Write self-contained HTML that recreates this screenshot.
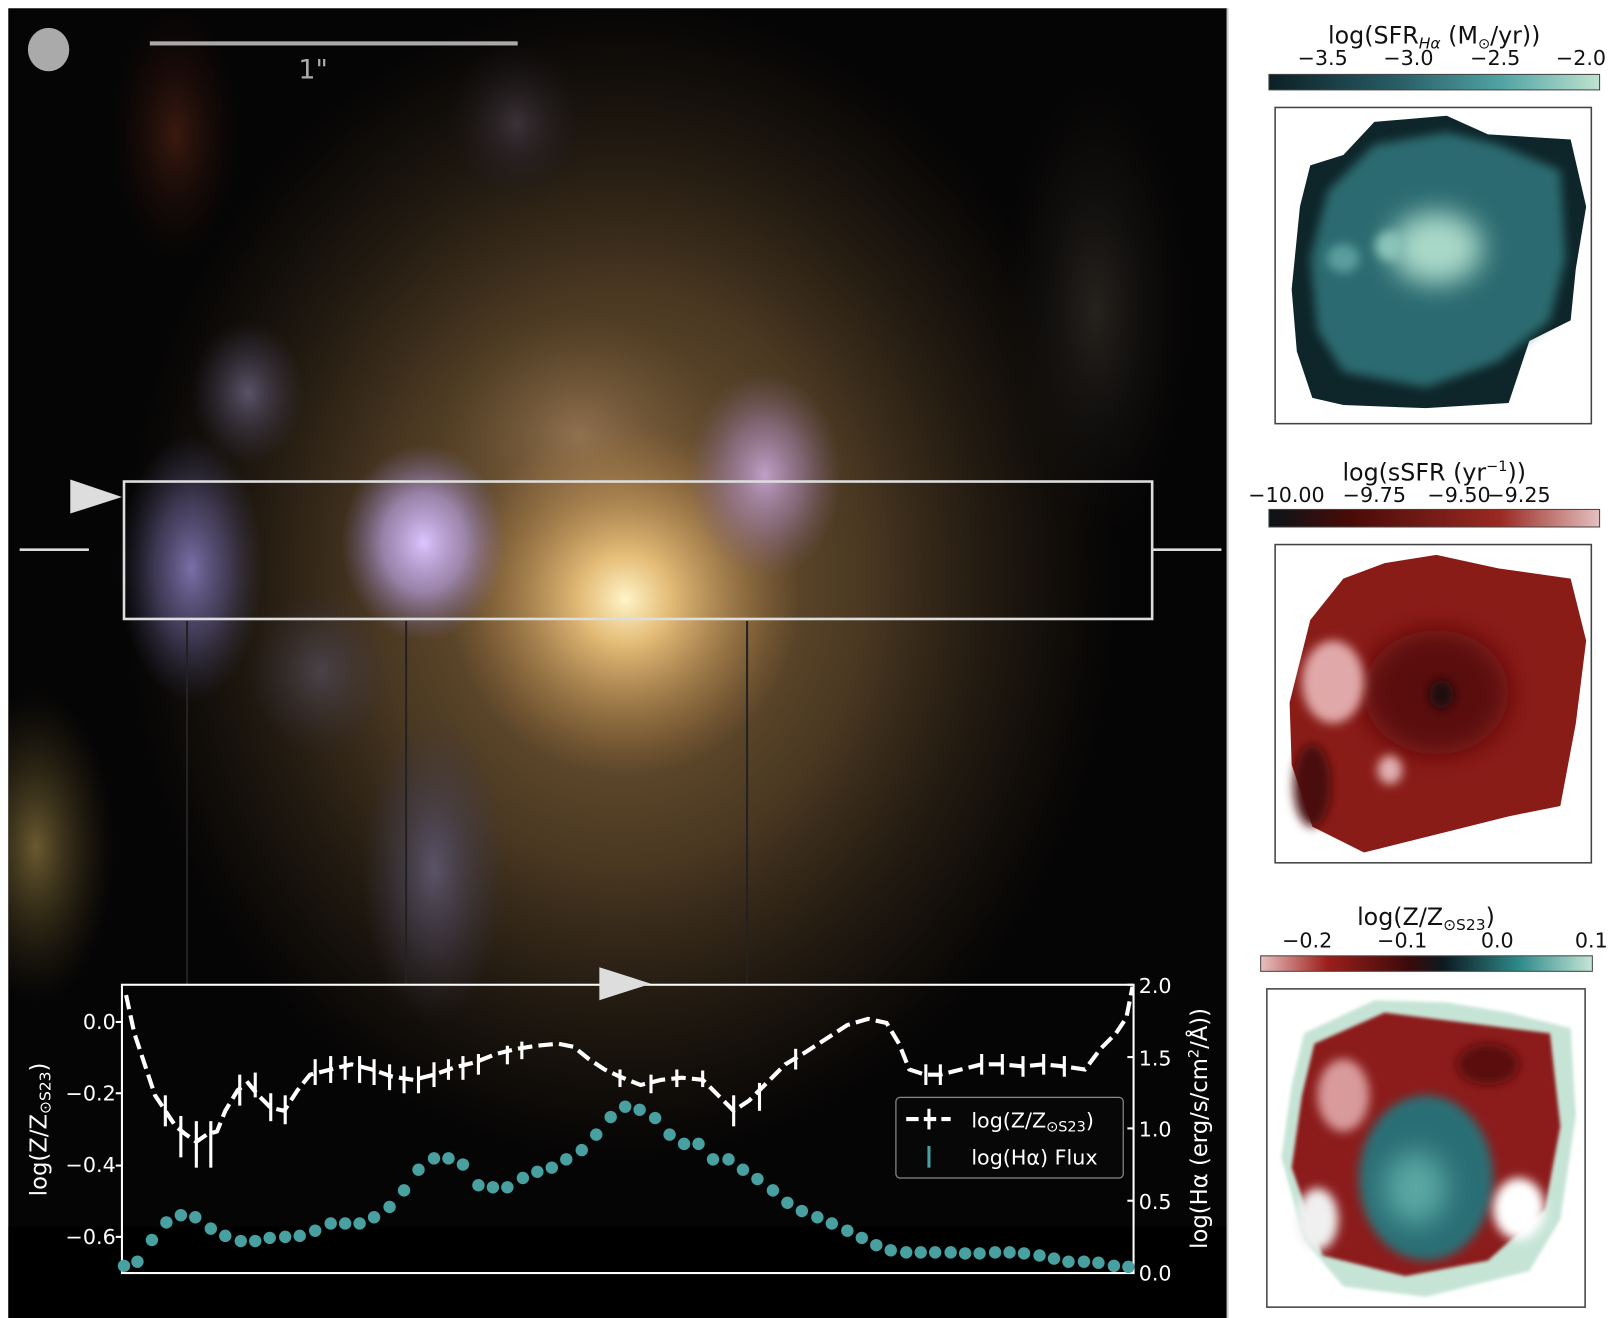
<!DOCTYPE html>
<html><head><meta charset="utf-8"><style>
html,body{margin:0;padding:0;background:#fff;}
svg{display:block;}
text{font-family:"DejaVu Sans","Liberation Sans",sans-serif;}
</style></head><body>
<svg width="1612" height="1318" viewBox="0 0 1560 1275.5" xmlns="http://www.w3.org/2000/svg">
<defs>
<filter id="b12" filterUnits="userSpaceOnUse" x="-200" y="-200" width="2000" height="1700"><feGaussianBlur stdDeviation="13"/></filter>
<filter id="b6" filterUnits="userSpaceOnUse" x="-200" y="-200" width="2000" height="1700"><feGaussianBlur stdDeviation="5"/></filter>
<filter id="b2" filterUnits="userSpaceOnUse" x="-200" y="-200" width="2000" height="1700"><feGaussianBlur stdDeviation="1.5"/></filter>
<clipPath id="img"><rect x="8" y="8" width="1180" height="1268"/></clipPath>
<radialGradient id="gBody"><stop offset="0" stop-color="#8a6a40" stop-opacity="1"/><stop offset="0.5" stop-color="#5a4428" stop-opacity="0.8"/><stop offset="1" stop-color="#3a2c1a" stop-opacity="0"/></radialGradient>
<radialGradient id="gCore"><stop offset="0" stop-color="#fff4c8"/><stop offset="0.25" stop-color="#f0c880" stop-opacity="0.9"/><stop offset="1" stop-color="#b07a40" stop-opacity="0"/></radialGradient>
<radialGradient id="gUp"><stop offset="0" stop-color="#9a7a58" stop-opacity="0.8"/><stop offset="1" stop-color="#6a5030" stop-opacity="0"/></radialGradient>
<radialGradient id="gV1"><stop offset="0" stop-color="#dcc4ff"/><stop offset="0.5" stop-color="#b8a0e0" stop-opacity="0.7"/><stop offset="1" stop-color="#8070b0" stop-opacity="0"/></radialGradient>
<radialGradient id="gV2"><stop offset="0" stop-color="#c0a0c8"/><stop offset="0.5" stop-color="#a080a8" stop-opacity="0.6"/><stop offset="1" stop-color="#806080" stop-opacity="0"/></radialGradient>
<radialGradient id="gV3"><stop offset="0" stop-color="#7a70a8"/><stop offset="0.5" stop-color="#605888" stop-opacity="0.6"/><stop offset="1" stop-color="#404060" stop-opacity="0"/></radialGradient>
<radialGradient id="gV4"><stop offset="0" stop-color="#5a5468"/><stop offset="1" stop-color="#3a3448" stop-opacity="0"/></radialGradient>
<radialGradient id="gY"><stop offset="0" stop-color="#6a5a30"/><stop offset="1" stop-color="#3a3018" stop-opacity="0"/></radialGradient>
<radialGradient id="gD"><stop offset="0" stop-color="#3a3238"/><stop offset="1" stop-color="#1a1418" stop-opacity="0"/></radialGradient>
<radialGradient id="gR"><stop offset="0" stop-color="#3a1a10"/><stop offset="1" stop-color="#200c08" stop-opacity="0"/></radialGradient>
<radialGradient id="gG"><stop offset="0" stop-color="#26221e"/><stop offset="1" stop-color="#141210" stop-opacity="0"/></radialGradient>
<linearGradient id="cb1" x1="0" x2="1"><stop offset="0" stop-color="#0c1f24"/><stop offset="0.4" stop-color="#2a5f68"/><stop offset="0.7" stop-color="#4fa3a3"/><stop offset="1" stop-color="#bfe3d0"/></linearGradient>
<linearGradient id="cb2" x1="0" x2="1"><stop offset="0" stop-color="#0b1418"/><stop offset="0.25" stop-color="#4a0b08"/><stop offset="0.7" stop-color="#9a2a22"/><stop offset="1" stop-color="#e4c0c0"/></linearGradient>
<linearGradient id="cb3" x1="0" x2="1"><stop offset="0" stop-color="#e8c0c0"/><stop offset="0.2" stop-color="#9c1f1a"/><stop offset="0.45" stop-color="#3a0a0a"/><stop offset="0.55" stop-color="#0c1a20"/><stop offset="0.78" stop-color="#2e8a8a"/><stop offset="1" stop-color="#c4e6d6"/></linearGradient>
</defs>

<rect x="8" y="8" width="1180" height="1268" fill="#060505"/>
<g clip-path="url(#img)">
<ellipse cx="600" cy="560" rx="480" ry="560" fill="url(#gBody)"/>
<ellipse cx="560" cy="420" rx="140" ry="120" fill="url(#gUp)"/>
<ellipse cx="605" cy="580" rx="170" ry="170" fill="url(#gCore)"/>
<ellipse cx="410" cy="525" rx="80" ry="95" fill="url(#gV1)"/>
<ellipse cx="740" cy="460" rx="75" ry="100" fill="url(#gV2)"/>
<ellipse cx="185" cy="550" rx="70" ry="130" fill="url(#gV3)"/>
<ellipse cx="240" cy="380" rx="55" ry="70" fill="url(#gV4)"/>
<ellipse cx="35" cy="820" rx="75" ry="150" fill="url(#gY)"/>
<ellipse cx="420" cy="840" rx="70" ry="150" fill="url(#gV4)"/>
<ellipse cx="310" cy="650" rx="70" ry="80" fill="url(#gV4)" opacity="0.6"/>
<ellipse cx="1060" cy="300" rx="90" ry="220" fill="url(#gG)"/>
<ellipse cx="500" cy="120" rx="70" ry="80" fill="url(#gD)"/>
<ellipse cx="170" cy="130" rx="60" ry="120" fill="url(#gR)"/>
<rect x="8" y="1187" width="1180" height="90" fill="#000"/>
</g>
<rect x="1187" y="8" width="2" height="1268" fill="#ccc"/>
<ellipse cx="47" cy="48" rx="20" ry="21" fill="#aaa"/>
<rect x="145" y="40" width="356" height="4" fill="#aaa"/>
<text x="303" y="76" font-size="26" fill="#aaa" font-family="Liberation Sans Narrow,Liberation Sans,sans-serif" text-anchor="middle">1"</text>
<rect x="120" y="466" width="995" height="133" fill="none" stroke="#ddd" stroke-width="2.5"/>
<polygon points="68,464 68,497 118,481" fill="#ddd"/>
<line x1="19" y1="532" x2="86" y2="532" stroke="#ddd" stroke-width="2.5"/>
<line x1="1116" y1="532" x2="1182" y2="532" stroke="#ddd" stroke-width="2.5"/>
<g stroke="#222" stroke-width="2">
<line x1="181" y1="601" x2="181" y2="953"/>
<line x1="393" y1="601" x2="393" y2="953"/>
<line x1="723" y1="601" x2="723" y2="953"/>
</g>

<rect x="118" y="953" width="979" height="279" fill="none" stroke="#fff" stroke-width="2"/>
<polygon points="580,936 580,968 630,952" fill="#ddd"/>
<g fill="#fff" font-size="20">
<text x="112" y="996" text-anchor="end">0.0</text>
<text x="112" y="1065" text-anchor="end">−0.2</text>
<text x="112" y="1134" text-anchor="end">−0.4</text>
<text x="112" y="1204" text-anchor="end">−0.6</text>
<text x="1102" y="961">2.0</text>
<text x="1102" y="1031">1.5</text>
<text x="1102" y="1100">1.0</text>
<text x="1102" y="1170">0.5</text>
<text x="1102" y="1239">0.0</text>
<text transform="translate(45,1093) rotate(-90)" text-anchor="middle" font-size="22">log(Z/Z<tspan font-size="15" dy="4">⊙S23</tspan><tspan dy="-4">)</tspan></text>
<text transform="translate(1168,1092) rotate(-90)" text-anchor="middle" font-size="22">log(Hα (erg/s/cm<tspan font-size="14" dy="-8">2</tspan><tspan dy="8">/Å))</tspan></text>
</g>
<g stroke="#fff" stroke-width="2">
<line x1="112" y1="989" x2="118" y2="989"/><line x1="112" y1="1058" x2="118" y2="1058"/><line x1="112" y1="1128" x2="118" y2="1128"/><line x1="112" y1="1197" x2="118" y2="1197"/>
<line x1="1097" y1="953" x2="1091" y2="953"/><line x1="1097" y1="1023" x2="1091" y2="1023"/><line x1="1097" y1="1092" x2="1091" y2="1092"/><line x1="1097" y1="1162" x2="1091" y2="1162"/>
</g>
<g fill="#48a0a0">
<circle cx="120" cy="1225" r="6"/><circle cx="133" cy="1221" r="6"/><circle cx="147" cy="1200" r="6"/><circle cx="161" cy="1183" r="6"/><circle cx="175" cy="1176" r="6"/><circle cx="189" cy="1178" r="6"/><circle cx="204" cy="1189" r="6"/><circle cx="218" cy="1196" r="6"/><circle cx="233" cy="1201" r="6"/><circle cx="247" cy="1201" r="6"/><circle cx="261" cy="1198" r="6"/><circle cx="276" cy="1197" r="6"/><circle cx="290" cy="1196" r="6"/><circle cx="305" cy="1191" r="6"/><circle cx="320" cy="1184" r="6"/><circle cx="334" cy="1184" r="6"/><circle cx="348" cy="1184" r="6"/><circle cx="362" cy="1178" r="6"/><circle cx="377" cy="1168" r="6"/><circle cx="391" cy="1152" r="6"/><circle cx="405" cy="1132" r="6"/><circle cx="420" cy="1121" r="6"/><circle cx="434" cy="1121" r="6"/><circle cx="448" cy="1127" r="6"/><circle cx="463" cy="1147" r="6"/><circle cx="477" cy="1149" r="6"/><circle cx="491" cy="1149" r="6"/><circle cx="506" cy="1140" r="6"/><circle cx="520" cy="1134" r="6"/><circle cx="534" cy="1130" r="6"/><circle cx="548" cy="1122" r="6"/><circle cx="563" cy="1113" r="6"/><circle cx="577" cy="1098" r="6"/><circle cx="591" cy="1081" r="6"/><circle cx="605" cy="1071" r="6"/><circle cx="619" cy="1074" r="6"/><circle cx="634" cy="1082" r="6"/><circle cx="648" cy="1098" r="6"/><circle cx="662" cy="1107" r="6"/><circle cx="676" cy="1107" r="6"/><circle cx="690" cy="1122" r="6"/><circle cx="705" cy="1122" r="6"/><circle cx="719" cy="1132" r="6"/><circle cx="733" cy="1141" r="6"/><circle cx="748" cy="1152" r="6"/><circle cx="762" cy="1164" r="6"/><circle cx="776" cy="1172" r="6"/><circle cx="791" cy="1178" r="6"/><circle cx="805" cy="1184" r="6"/><circle cx="820" cy="1191" r="6"/><circle cx="834" cy="1198" r="6"/><circle cx="848" cy="1205" r="6"/><circle cx="862" cy="1210" r="6"/><circle cx="877" cy="1212" r="6"/><circle cx="891" cy="1212" r="6"/><circle cx="905" cy="1212" r="6"/><circle cx="920" cy="1212" r="6"/><circle cx="934" cy="1213" r="6"/><circle cx="948" cy="1213" r="6"/><circle cx="963" cy="1212" r="6"/><circle cx="977" cy="1212" r="6"/><circle cx="991" cy="1213" r="6"/><circle cx="1006" cy="1215" r="6"/><circle cx="1020" cy="1218" r="6"/><circle cx="1034" cy="1221" r="6"/><circle cx="1049" cy="1221" r="6"/><circle cx="1063" cy="1222" r="6"/><circle cx="1078" cy="1225" r="6"/><circle cx="1092" cy="1226" r="6"/>
</g>
<polyline fill="none" stroke="#fff" stroke-width="4" stroke-dasharray="14,6" points="122,963 130,1000 140,1030 150,1060 160,1075 170,1090 180,1098 190,1105 200,1098 210,1095 218,1075 230,1055 240,1048 250,1060 262,1072 275,1075 288,1055 300,1040 320,1035 340,1030 360,1035 380,1042 400,1045 420,1040 440,1033 460,1028 480,1020 500,1015 520,1012 540,1010 555,1013 570,1025 585,1035 600,1042 620,1050 640,1045 660,1043 680,1045 695,1060 710,1075 725,1065 740,1050 760,1030 780,1018 800,1005 820,992 840,986 858,990 870,1010 880,1035 895,1040 910,1040 930,1035 950,1030 970,1030 990,1032 1010,1030 1030,1032 1050,1035 1065,1015 1080,1000 1090,985 1096,955"/>
<g stroke="#fff" stroke-width="3">
<line x1="160" y1="1060" x2="160" y2="1090"/><line x1="175" y1="1080" x2="175" y2="1120"/><line x1="190" y1="1085" x2="190" y2="1130"/><line x1="204" y1="1085" x2="204" y2="1130"/><line x1="232" y1="1040" x2="232" y2="1070"/><line x1="247" y1="1038" x2="247" y2="1062"/><line x1="262" y1="1058" x2="262" y2="1085"/><line x1="276" y1="1060" x2="276" y2="1088"/><line x1="305" y1="1025" x2="305" y2="1050"/><line x1="320" y1="1022" x2="320" y2="1048"/><line x1="334" y1="1022" x2="334" y2="1045"/><line x1="348" y1="1022" x2="348" y2="1048"/><line x1="362" y1="1025" x2="362" y2="1050"/><line x1="377" y1="1030" x2="377" y2="1055"/><line x1="391" y1="1032" x2="391" y2="1058"/><line x1="405" y1="1032" x2="405" y2="1058"/><line x1="420" y1="1028" x2="420" y2="1052"/><line x1="434" y1="1025" x2="434" y2="1045"/><line x1="448" y1="1022" x2="448" y2="1045"/><line x1="463" y1="1020" x2="463" y2="1040"/><line x1="491" y1="1012" x2="491" y2="1030"/><line x1="505" y1="1008" x2="505" y2="1025"/><line x1="600" y1="1035" x2="600" y2="1052"/><line x1="630" y1="1040" x2="630" y2="1058"/><line x1="655" y1="1035" x2="655" y2="1052"/><line x1="680" y1="1036" x2="680" y2="1052"/><line x1="710" y1="1060" x2="710" y2="1090"/><line x1="735" y1="1048" x2="735" y2="1075"/><line x1="770" y1="1015" x2="770" y2="1035"/><line x1="896" y1="1030" x2="896" y2="1050"/><line x1="910" y1="1030" x2="910" y2="1050"/><line x1="950" y1="1020" x2="950" y2="1040"/><line x1="970" y1="1020" x2="970" y2="1040"/><line x1="990" y1="1022" x2="990" y2="1042"/><line x1="1010" y1="1020" x2="1010" y2="1040"/><line x1="1030" y1="1022" x2="1030" y2="1042"/>
</g>
<rect x="867" y="1062" width="220" height="78" rx="4" fill="#080808" fill-opacity="0.85" stroke="#888" stroke-width="1.2"/>
<line x1="877" y1="1083" x2="920" y2="1083" stroke="#fff" stroke-width="4" stroke-dasharray="12,5"/>
<line x1="899" y1="1073" x2="899" y2="1093" stroke="#fff" stroke-width="3"/>
<line x1="899" y1="1109" x2="899" y2="1130" stroke="#48a0a0" stroke-width="3"/>
<text x="940" y="1091" fill="#fff" font-size="20">log(Z/Z<tspan font-size="14" dy="4">⊙S23</tspan><tspan dy="-4">)</tspan></text>
<text x="940" y="1127" fill="#fff" font-size="20">log(Hα) Flux</text>

<text x="1388" y="42" font-size="23" text-anchor="middle" fill="#111">log(SFR<tspan font-size="15" font-style="italic" dy="5">Hα</tspan><tspan dy="-5"> (M</tspan><tspan font-size="14" dy="5">⊙</tspan><tspan dy="-5">/yr))</tspan></text>
<g font-size="20" fill="#111" text-anchor="middle"><text x="1280" y="63">−3.5</text><text x="1363" y="63">−3.0</text><text x="1447" y="63">−2.5</text><text x="1530" y="63">−2.0</text></g>
<rect x="1228" y="72" width="320" height="15" fill="url(#cb1)" stroke="#444"/>
<rect x="1234" y="104" width="306" height="306" fill="#fff" stroke="#444" stroke-width="1.5"/>
<path d="M1268,160 L1300,150 1330,118 1400,112 1440,130 1520,135 1535,200 1525,260 1520,310 1480,330 1460,390 1380,395 1300,392 1270,385 1255,340 1250,280 1258,200Z" fill="#0e2529"/>
<path d="M1285,185 L1330,140 1400,128 1450,140 1510,165 1515,250 1500,310 1450,350 1380,375 1300,360 1275,320 1268,250Z" fill="#2c6a70" filter="url(#b6)"/>
<ellipse cx="1390" cy="240" rx="45" ry="35" fill="#a8d8c8" filter="url(#b12)"/>
<ellipse cx="1345" cy="238" rx="14" ry="14" fill="#8ac4b8" filter="url(#b6)"/>
<ellipse cx="1300" cy="250" rx="16" ry="14" fill="#5a9e9e" filter="url(#b6)"/>

<text x="1388" y="465" font-size="23" text-anchor="middle" fill="#111">log(sSFR (yr<tspan font-size="14" dy="-9">−1</tspan><tspan dy="9">))</tspan></text>
<g font-size="20" fill="#111" text-anchor="middle"><text x="1245" y="486">−10.00</text><text x="1330" y="486">−9.75</text><text x="1412" y="486">−9.50</text><text x="1470" y="486">−9.25</text></g>
<rect x="1228" y="493" width="320" height="17" fill="url(#cb2)" stroke="#444"/>
<rect x="1234" y="527" width="306" height="308" fill="#fff" stroke="#444" stroke-width="1.5"/>
<path d="M1268,600 L1300,560 1340,545 1390,537 1450,550 1520,560 1535,620 1525,700 1510,780 1460,790 1400,805 1320,825 1270,800 1250,740 1248,680Z" fill="#8a1c18"/>
<ellipse cx="1390" cy="670" rx="70" ry="60" fill="#5a0e0c" filter="url(#b12)"/>
<ellipse cx="1395" cy="672" rx="12" ry="14" fill="#1a0808" filter="url(#b6)"/>
<ellipse cx="1290" cy="660" rx="30" ry="40" fill="#e0a8a8" filter="url(#b6)"/>
<ellipse cx="1345" cy="745" rx="12" ry="14" fill="#e0b0b0" filter="url(#b6)"/>
<ellipse cx="1270" cy="760" rx="18" ry="40" fill="#4a0808" filter="url(#b6)"/>

<text x="1380" y="895" font-size="23" text-anchor="middle" fill="#111">log(Z/Z<tspan font-size="15" dy="5">⊙S23</tspan><tspan dy="-5">)</tspan></text>
<g font-size="20" fill="#111" text-anchor="middle"><text x="1265" y="917">−0.2</text><text x="1357" y="917">−0.1</text><text x="1449" y="917">0.0</text><text x="1540" y="917">0.1</text></g>
<rect x="1220" y="925" width="321" height="15" fill="url(#cb3)" stroke="#444"/>
<rect x="1226" y="957" width="308" height="308" fill="#fff" stroke="#444" stroke-width="1.5"/>
<path d="M1262,1000 L1330,968 1400,970 1460,980 1520,995 1525,1080 1510,1180 1480,1230 1380,1255 1300,1245 1262,1200 1240,1120 1250,1050Z" fill="#c6e4d6" filter="url(#b2)"/>
<path d="M1272,1010 L1340,980 1420,990 1500,1000 1510,1090 1495,1170 1440,1220 1360,1235 1280,1215 1250,1130 1260,1060Z" fill="#8c1e1a" filter="url(#b2)"/>
<ellipse cx="1380" cy="1140" rx="65" ry="80" fill="#2c6e74" filter="url(#b6)"/>
<ellipse cx="1370" cy="1150" rx="30" ry="35" fill="#5aa8a4" filter="url(#b12)"/>
<ellipse cx="1300" cy="1060" rx="25" ry="35" fill="#d89a9a" filter="url(#b6)"/>
<ellipse cx="1440" cy="1030" rx="30" ry="20" fill="#5a0c0a" filter="url(#b6)"/>
<ellipse cx="1470" cy="1170" rx="25" ry="30" fill="#fff" filter="url(#b6)"/>
<ellipse cx="1275" cy="1180" rx="20" ry="30" fill="#f0f0f0" filter="url(#b6)"/>
</svg>
</body></html>
